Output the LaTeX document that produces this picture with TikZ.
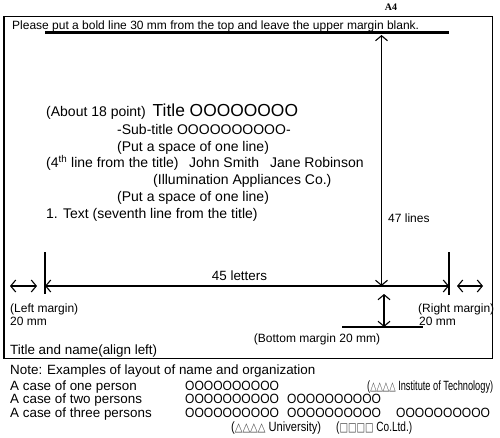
\documentclass[tikz,border=0pt]{standalone}
\usepackage{fontspec}
\setmainfont{Liberation Sans}
\newfontfamily\symfont{DejaVu Sans}
\newfontfamily\serfont{Liberation Serif}
\newfontfamily\ofont[FakeStretch=0.9]{Liberation Sans}
\usetikzlibrary{arrows.meta}
\tikzset{
  txt/.style={inner sep=0pt, anchor=base west, font=\fontsize{14}{16}\selectfont},
  lbl/.style={inner sep=0pt, anchor=base west, font=\fontsize{12}{14}\selectfont},
  nte/.style={inner sep=0pt, anchor=base west, font=\fontsize{13.4}{15}\selectfont},
  dim/.style={line width=1.1pt, {Straight Barb[length=5pt,width=12pt]}-{Straight Barb[length=5pt,width=12pt]}},
  tick/.style={line width=1.1pt},
  >=Stealth
}
\newcommand{\tris}{{\symfont\fontsize{12}{13}\selectfont\color{black!75}△△△△}}
\newcommand{\sqrs}{{\symfont\fontsize{12}{13}\selectfont\color{black!75}□□□□}}
\newcommand{\oos}{{\ofont OOOOOOOOOO}}
\newcommand{\fitw}[2]{\resizebox{#1}{\height}{#2}}

\begin{document}
\begin{tikzpicture}[x=1pt, y=-1pt]
  \useasboundingbox (0,0) rectangle (500,438);
  \draw[line width=1.3pt] (4,16.5) rectangle (492.5,358.5);
  \node[font=\serfont\bfseries\fontsize{10}{11}\selectfont] (a4) at (391,7) {A4};
  \node[lbl] (hint) at (12,29.5) {Please put a bold line 30 mm from the top and leave the upper margin blank.};
  % title block
  \node[txt] (about) at (46,116.5) {(About 18 point)};
  \node[txt, font=\fontsize{17.4}{20}\selectfont] (title) at (152.5,116.5) {Title OOOOOOOO};
  \node[txt] (sub) at (117,134.5) {-Sub-title OOOOOOOOOO-};
  \node[txt] (sp1) at (117,151.5) {(Put a space of one line)};
  \node[txt] (fourth) at (46,168) {(4\textsuperscript{th} line from the title)};
  \node[txt] (john) at (189,168) {John Smith};
  \node[txt] (jane) at (270,168) {Jane Robinson};
  \node[txt] (org) at (153,185) {(Illumination Appliances Co.)};
  \node[txt] (sp2) at (117,201.5) {(Put a space of one line)};
  \node[txt] (text) at (46,218.5) {1. Text (seventh line from the title)};
  % dimension labels
  \node[lbl] (lines) at (388,222.5) {47 lines};
  \node[nte, anchor=base] (letters) at (239.5,280.5) {45 letters};
  \node[lbl] (lm) at (10,312) {(Left margin)};
  \node[lbl] (lmv) at (10,325) {20 mm};
  \node[lbl] (rm) at (418,312) {(Right margin)};
  \node[lbl] (rmv) at (419,325) {20 mm};
  \node[lbl, anchor=base] (bm) at (317,342) {(Bottom margin 20 mm)};
  \node[nte] (align) at (10,354) {Title and name(align left)};
  % points
  \coordinate (b0) at (45,33);
  \coordinate (b1) at (449,33);
  \coordinate (vt) at (381.5,35);
  \coordinate (vb) at (381.5,286);
  \coordinate (h0) at (45,286);
  \coordinate (h1) at (449,286);
  \coordinate (tl0) at (45,252);
  \coordinate (tl1) at (45,294);
  \coordinate (tr0) at (449,252);
  \coordinate (tr1) at (449,295);
  \coordinate (l0) at (10,286);
  \coordinate (l1) at (37,286);
  \coordinate (r0) at (457,286);
  \coordinate (r1) at (483,286);
  \coordinate (m0) at (384,294);
  \coordinate (m1) at (384,327);
  \coordinate (g0) at (342,327);
  \coordinate (g1) at (423,327);
  % lines
  \draw[line width=3pt] (b0) -- (b1);
  \draw[dim] (vt) -- (vb);
  \draw[dim] (h0) -- (h1);
  \draw[tick] (tl0) -- (tl1);
  \draw[tick] (tr0) -- (tr1);
  \draw[dim] (l0) -- (l1);
  \draw[dim] (r0) -- (r1);
  \draw[dim] (m0) -- (m1);
  \draw[tick] (g0) -- (g1);
  % note below the frame
  \node[nte] (note) at (10,374.5) {Note: Examples of layout of name and organization};
  \node[nte] (one) at (10,390) {A case of one person};
  \node[nte] (two) at (10,403.5) {A case of two persons};
  \node[nte] (three) at (10,417.5) {A case of three persons};
  \node[nte] (o1a) at (185,390) {\oos};
  \node[nte] (inst) at (367,390) {\fitw{126pt}{(\tris\ Institute of Technology)}};
  \node[nte] (o2a) at (185,403.5) {\oos};
  \node[nte] (o2b) at (287,403.5) {\oos};
  \node[nte] (o3a) at (185,417.5) {\oos};
  \node[nte] (o3b) at (287,417.5) {\oos};
  \node[nte] (o3c) at (396,417.5) {\oos};
  \node[nte] (univ) at (231,431) {\fitw{90pt}{(\tris\ University)}};
  \node[nte] (coltd) at (336,431) {\fitw{76pt}{(\sqrs\ Co.Ltd.)}};
\end{tikzpicture}
\end{document}
